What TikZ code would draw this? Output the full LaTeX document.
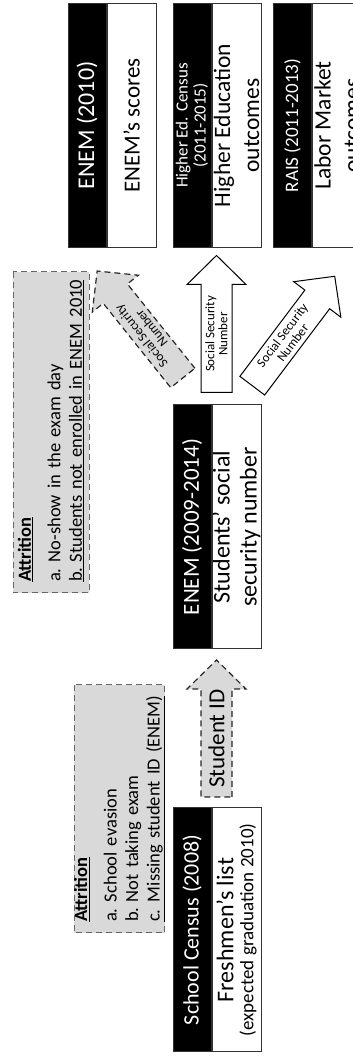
\documentclass[tikz,border=0pt]{standalone}
\usepackage{fontspec}
\setmainfont{Carlito}
\usetikzlibrary{positioning}

% block arrow: name, centre, angle, style, text
\newcommand{\blockarrow}[5]{%
  \begin{scope}[shift={#2}, rotate=#3]
    \draw[#4] (-68.5pt,-15.5pt) -- (39.5pt,-15.5pt) -- (39.5pt,-29.5pt)
      -- (68.5pt,0pt) -- (39.5pt,29.5pt) -- (39.5pt,15.5pt)
      -- (-68.5pt,15.5pt) -- cycle;
    \node[arrowtext] (#1) at (-10pt,0pt) {#5};
  \end{scope}}

\begin{document}
\begin{tikzpicture}[x=1pt, y=1pt]
    \tikzset{
      head/.style={fill=black, draw=black!80, line width=1pt, text=white, rotate=90,
        minimum width=244pt, minimum height=38pt, inner sep=0pt, align=center},
      body/.style={fill=white, draw=black!80, line width=1pt, rotate=90,
        minimum width=244pt, minimum height=49pt, inner sep=0pt, align=center},
      attrition/.style={fill=black!15, draw=black!60, line width=1pt,
        dash pattern=on 6pt off 4pt, rotate=90, align=left, inner xsep=11pt,
        inner ysep=0pt, font=\fontsize{18.5}{21.5}\selectfont},
      grayarrow/.style={fill=black!15, draw=black!85, line width=1.2pt,
        dash pattern=on 6pt off 4pt},
      whitearrow/.style={fill=white, draw=black, line width=1pt},
      arrowtext/.style={transform shape, align=center, inner sep=0pt,
        font=\fontsize{13}{13}\selectfont}
    }
    \useasboundingbox (0,0) rectangle (353,1057);
    \clip (0,0) rectangle (353,1057);

    % sources
    \node[head, font=\fontsize{22}{22}\selectfont] (census-h) at (192,127) {School Census (2008)};
    \node[body, below=0pt of census-h] (census-b)
      {{\fontsize{24}{22}\selectfont Freshmen's list}\\[5pt]
       {\fontsize{19}{19}\selectfont (expected graduation 2010)}};
    \node[head, font=\fontsize{23}{23}\selectfont] (enem-h) at (192,530) {ENEM (2009-2014)};
    \node[body, below=0pt of enem-h, font=\fontsize{24}{27}\selectfont] (enem-b)
      {Students' social\\security number};

    % outcomes
    \node[head, font=\fontsize{24}{24}\selectfont] (score-h) at (87,931.5) {ENEM (2010)};
    \node[body, below=0pt of score-h, font=\fontsize{23}{23}\selectfont] (score-b) {ENEM's scores};
    \node[head, font=\fontsize{17}{18}\selectfont] (hied-h) at (192,931.5)
      {Higher Ed. Census\\(2011-2015)};
    \node[body, below=0pt of hied-h, font=\fontsize{23.5}{29}\selectfont] (hied-b)
      {Higher Education\\outcomes};
    \node[head, font=\fontsize{19}{19}\selectfont] (rais-h) at (292.5,931.5) {RAIS (2011-2013)};
    \node[body, below=0pt of rais-h, font=\fontsize{23.5}{29}\selectfont] (rais-b)
      {Labor Market\\outcomes};

    % attrition notes
    \node[attrition, minimum width=248pt, minimum height=89pt, text width=226pt]
      (attr1) at (119.5,248)
      {\textbf{\underline{Attrition}}\\[8pt]
       \makebox[20pt][l]{a.}School evasion\\
       \makebox[20pt][l]{b.}Not taking exam\\
       \underline{\makebox[20pt][l]{c.}Missing student ID (ENEM)}};
    \node[attrition, minimum width=321pt, minimum height=76pt, text width=299pt]
      (attr2) at (51,624.5)
      {\textbf{\underline{Attrition}}\\[8pt]
       \makebox[20pt][l]{a.}No-show in the exam day\\
       \underline{\makebox[20pt][l]{b.}Students not enrolled in ENEM 2010}};

    % links
    \blockarrow{idarrow}{(216.5,328.5)}{90}{grayarrow}{\fontsize{23}{23}\selectfont Student ID}
    \blockarrow{ssnup}{(216.5,733)}{90}{whitearrow}{Social Security\\Number}
    \blockarrow{ssnleft}{(140,732.5)}{128.7}{grayarrow}{Social Security\\Number}
    \blockarrow{ssnright}{(293.5,726)}{53}{whitearrow}{Social Security\\Number}
\end{tikzpicture}
\end{document}
